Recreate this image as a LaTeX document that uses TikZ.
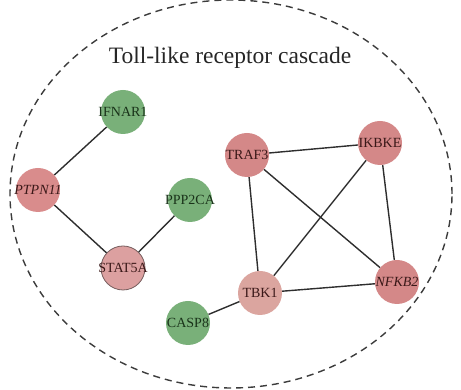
\documentclass[tikz,border=0pt]{standalone}
\usepackage{fontspec}
\setmainfont{Liberation Serif}
% gene labels may overhang their disc without widening it
\newcommand{\genelabel}[1]{\makebox[0pt][c]{#1}}
\begin{document}
\begin{tikzpicture}[x=1pt,y=1pt,
  gene/.style={circle,minimum size=44pt,inner sep=0pt,font=\fontsize{14}{15}\selectfont},
  up/.style={gene,fill=uppink,text=uptext},
  down/.style={gene,fill=downgreen,text=downtext},
  link/.style={draw=linkgray,line width=1.4pt}]
\definecolor{uppink}{HTML}{D48888}
\definecolor{uplight}{HTML}{DCA0A0}
\definecolor{uppale}{HTML}{DBA59F}
\definecolor{upmid}{HTML}{D98C8C}
\definecolor{downgreen}{HTML}{79B079}
\definecolor{uptext}{HTML}{3A1818}
\definecolor{downtext}{HTML}{1A331A}
\definecolor{linkgray}{HTML}{2E2E2E}
\definecolor{rimgray}{HTML}{3C3C3C}
\useasboundingbox (0,0) rectangle (461,390);
% pathway boundary
\draw[rimgray,line width=1.4pt,dash pattern=on 7pt off 5pt] (231,196) ellipse [x radius=221, y radius=194];
\node[font=\fontsize{23.5}{26}\selectfont,text=black!85] (title) at (230,332) {Toll-like receptor cascade};
% genes
\node[down] (ifnar1) at (123,278) {\genelabel{IFNAR1}};
\node[up,fill=upmid] (ptpn11) at (38,200) {\genelabel{\itshape PTPN11}};
\node[down] (ppp2ca) at (190,190) {\genelabel{PPP2CA}};
\node[up,fill=uplight,draw=uptext!70,line width=0.8pt] (stat5a) at (123,122) {\genelabel{STAT5A}};
\node[down] (casp8) at (188,67) {\genelabel{CASP8}};
\node[up] (traf3) at (247,235) {\genelabel{TRAF3}};
\node[up] (ikbke) at (380,247) {\genelabel{IKBKE}};
\node[up,fill=uppale] (tbk1) at (260,97) {\genelabel{TBK1}};
\node[up] (nfkb2) at (397,108) {\genelabel{\itshape NFKB2}};
% interactions
\path[link] (ifnar1) -- (ptpn11);
\path[link] (ptpn11) -- (stat5a);
\path[link] (stat5a) -- (ppp2ca);
\path[link] (casp8) -- (tbk1);
\path[link] (traf3) -- (ikbke);
\path[link] (traf3) -- (tbk1);
\path[link] (traf3) -- (nfkb2);
\path[link] (ikbke) -- (tbk1);
\path[link] (ikbke) -- (nfkb2);
\path[link] (tbk1) -- (nfkb2);
\end{tikzpicture}
\end{document}
